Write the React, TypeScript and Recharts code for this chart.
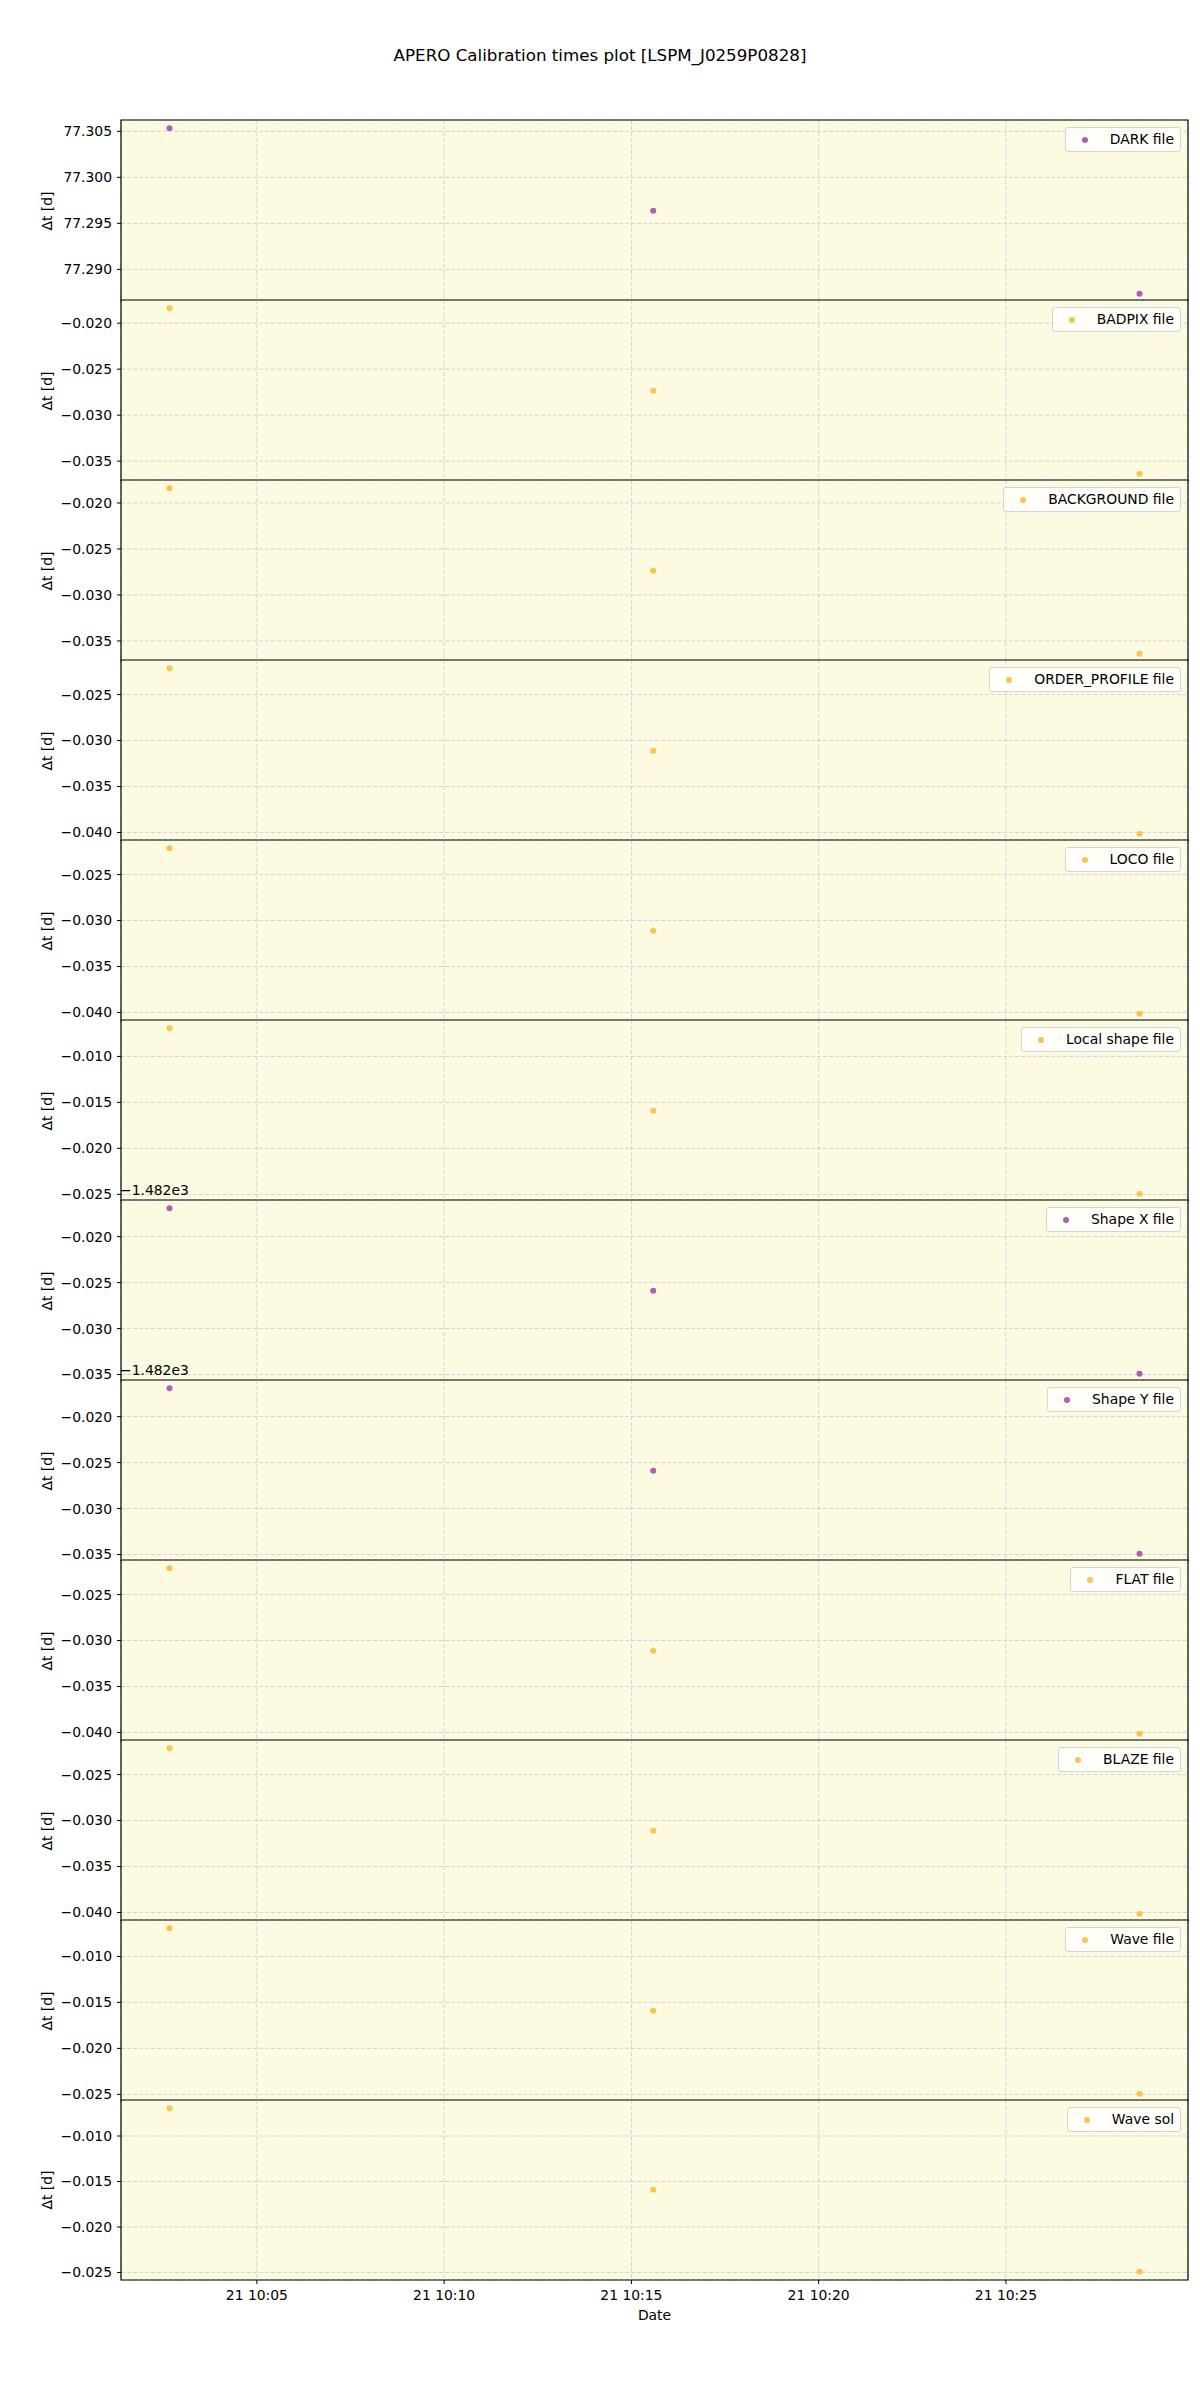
import React from 'react';
import { ScatterChart, Scatter, XAxis, YAxis, CartesianGrid, ReferenceArea } from 'recharts';

// observation times, minutes after 10:00 on the 21st
const obsMinutes = [2.667, 15.583, 28.567];
const xTicks = [5, 10, 15, 20, 25];

const panelNames = [
  'DARK file', 'BADPIX file', 'BACKGROUND file', 'ORDER_PROFILE file',
  'LOCO file', 'Local shape file', 'Shape X file', 'Shape Y file',
  'FLAT file', 'BLAZE file', 'Wave file', 'Wave sol',
];

// Δt [d] per panel, one value per observation
const darkValues = [77.30533, 77.29636, 77.28735];
const badpixValues = [-0.01838, -0.02735, -0.03637];
const backgroundValues = [-0.0184, -0.02737, -0.03639];
const orderProfileValues = [-0.02214, -0.03111, -0.04013];
const locoValues = [-0.02214, -0.03111, -0.04013];
const localShapeValues = [-0.00694, -0.01591, -0.02493];
const shapeXValues = [-1482.01692, -1482.02589, -1482.03491];
const shapeYValues = [-1482.01692, -1482.02589, -1482.03491];
const flatValues = [-0.02214, -0.03111, -0.04013];
const blazeValues = [-0.02214, -0.03111, -0.04013];
const waveFileValues = [-0.00694, -0.01591, -0.02493];
const waveSolValues = [-0.00694, -0.01591, -0.02493];

const panelValues = [
  darkValues, badpixValues, backgroundValues, orderProfileValues,
  locoValues, localShapeValues, shapeXValues, shapeYValues,
  flatValues, blazeValues, waveFileValues, waveSolValues,
];

// y tick values per panel
const darkTicks = [77.29, 77.295, 77.3, 77.305];
const badpixTicks = [-0.035, -0.03, -0.025, -0.02];
const orderTicks = [-0.04, -0.035, -0.03, -0.025];
const shapeTicks = [-1482.035, -1482.03, -1482.025, -1482.02];
const localTicks = [-0.025, -0.02, -0.015, -0.01];

const panelTicks = [
  darkTicks, badpixTicks, badpixTicks, orderTicks,
  orderTicks, localTicks, shapeTicks, shapeTicks,
  orderTicks, orderTicks, localTicks, localTicks,
];

// offset shown above the axis (matplotlib style), 0 = none
const panelOffsets = [0, 0, 0, 0, 0, 0, -1482, -1482, 0, 0, 0, 0];

const PURPLE = '#b35db0';
const ORANGE = '#ffc24f';
const panelColors = [
  PURPLE, ORANGE, ORANGE, ORANGE, ORANGE, ORANGE,
  PURPLE, PURPLE, ORANGE, ORANGE, ORANGE, ORANGE,
];

const FONT = '"DejaVu Sans", Verdana, sans-serif';
const FS = 13.9;
const TOP = 120;
const PH = 180;
const LEFT = 121;
const RIGHT = 1188;
const PAD = 2;
const AXIS_H = 52;

const padDomain = (vals: number[]): [number, number] => {
  const lo = Math.min(...vals);
  const hi = Math.max(...vals);
  const m = (hi - lo) * 0.05;
  return [lo - m, hi + m];
};

const xDomain = padDomain(obsMinutes);

const fmtTime = (m: number) => `21 10:${String(Math.round(m)).padStart(2, '0')}`;
const fmtY = (offset: number) => (v: number) => (v - offset).toFixed(3).replace('-', '\u2212');

const yLabel = (props: any) => {
  const vb = props.viewBox || {};
  const cx = (vb.x ?? 0) + 47;
  const cy = (vb.y ?? 0) + (vb.height ?? 0) / 2;
  return (
    <text x={cx} y={cy} transform={`rotate(-90 ${cx} ${cy})`} textAnchor="middle"
      dominantBaseline="central" fill="#000" fontSize={FS} fontFamily={FONT}>
      Δt [d]
    </text>
  );
};

const xLabel = (props: any) => {
  const vb = props.viewBox || {};
  const cx = (vb.x ?? 0) + (vb.width ?? 0) / 2;
  const y = (vb.y ?? 0) + 40;
  return (
    <text x={cx} y={y} textAnchor="middle" fill="#000" fontSize={FS} fontFamily={FONT}>Date</text>
  );
};

const Panel: React.FC<{ i: number }> = ({ i }) => {
  const last = i === panelNames.length - 1;
  const values = panelValues[i];
  const color = panelColors[i];
  const yDomain = padDomain(values);
  const data = obsMinutes.map((t, k) => ({ x: t, y: values[k] }));
  const height = PH + PAD + (last ? AXIS_H : PAD);
  return (
    <div style={{ position: 'absolute', left: 0, top: TOP + PH * i - PAD }}>
      <ScatterChart width={1200} height={height}
        margin={{ top: PAD, right: 1200 - RIGHT, bottom: 0, left: 0 }}>
        <CartesianGrid fill="#fcfbe2" fillOpacity={1} stroke="#d2d3da" strokeDasharray="4 2" />
        <XAxis type="number" dataKey="x" domain={xDomain} ticks={xTicks} allowDataOverflow
          interval={0} hide={!last} height={last ? AXIS_H : 0} tickFormatter={fmtTime}
          axisLine={false} tickLine={{ stroke: '#000' }} tickSize={4} tickMargin={6}
          tick={{ fill: '#000', fontSize: FS, fontFamily: FONT }}
          label={last ? { content: xLabel } : undefined} />
        <YAxis type="number" dataKey="y" domain={yDomain} ticks={panelTicks[i]} interval={0}
          allowDataOverflow width={LEFT} tickFormatter={fmtY(panelOffsets[i])}
          axisLine={false} tickLine={{ stroke: '#000' }} tickSize={4} tickMargin={5}
          tick={{ fill: '#000', fontSize: FS, fontFamily: FONT }}
          label={{ content: yLabel }} />
        <ReferenceArea x1={xDomain[0]} x2={xDomain[1]} y1={yDomain[0]} y2={yDomain[1]}
          fill="none" fillOpacity={0} stroke="#000" strokeWidth={1.2} ifOverflow="visible" />
        <Scatter data={data} isAnimationActive={false}
          shape={(p: any) => <circle cx={p.cx} cy={p.cy} r={3} fill={color} />} />
      </ScatterChart>
    </div>
  );
};

const LegendBox: React.FC<{ i: number }> = ({ i }) => (
  <div style={{
    position: 'absolute', right: 1200 - 1181, top: TOP + PH * i + 7,
    display: 'flex', alignItems: 'center', background: 'rgba(255,255,255,0.8)',
    border: '1px solid #d4d4d4', borderRadius: 3, padding: '4px 6px 4px 5px',
    fontFamily: FONT, fontSize: FS, lineHeight: '15px', color: '#000',
  }}>
    <div style={{ width: 28, display: 'flex', justifyContent: 'center' }}>
      <div style={{ width: 6, height: 6, borderRadius: 3, background: panelColors[i] }} />
    </div>
    <div style={{ marginLeft: 11, whiteSpace: 'nowrap' }}>{panelNames[i]}</div>
  </div>
);

const App: React.FC = () => (
  <div style={{ position: 'absolute', left: 0, top: 0, width: 1200, height: 2400, background: '#fff' }}>
    <div style={{
      position: 'absolute', left: 0, width: 1200, top: 45, textAlign: 'center',
      fontFamily: FONT, fontSize: 16.7, lineHeight: '20px', color: '#000',
    }}>
      APERO Calibration times plot [LSPM_J0259P0828]
    </div>
    {panelNames.map((_, i) => <Panel key={i} i={i} />)}
    {panelNames.map((_, i) => <LegendBox key={`l${i}`} i={i} />)}
    {panelOffsets.map((o, i) => o !== 0 ? (
      <div key={`o${i}`} style={{
        position: 'absolute', left: LEFT - 1, top: TOP + PH * i - 18,
        fontFamily: FONT, fontSize: FS, lineHeight: '16px', color: '#000',
      }}>
        {`\u2212${Math.abs(o / 1000).toFixed(3)}e3`}
      </div>
    ) : null)}
  </div>
);

export default App;
